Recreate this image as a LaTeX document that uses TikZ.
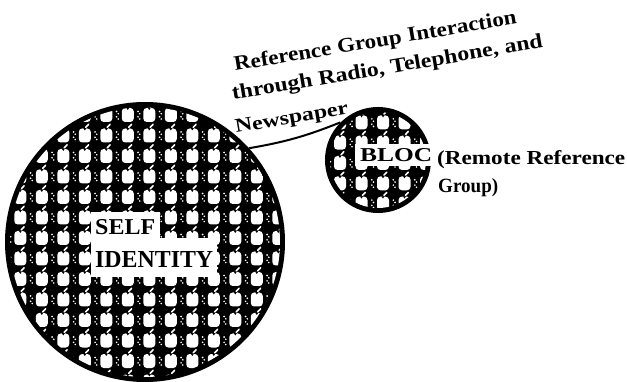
\documentclass[tikz,border=0pt]{standalone}
\usepackage{fontspec}
\setmainfont{Liberation Serif}
\usepackage{graphicx}
\tikzset{
  cell/.pic={
    \fill[white, rounded corners=3.5pt] (-6,-7) rectangle (6,7);
    \fill[black] (-1.5,-7.3) -- (1.5,-7.3) -- (0,-5) -- cycle;
    \draw[white, line width=1.6pt, line cap=round] (1,-8.3) -- (3.8,-11.2);
    \fill[white] (10.3,-3.5) circle[radius=0.9pt] (12,-1.2) circle[radius=0.9pt]
                 (10.3,1.8) circle[radius=0.9pt] (12,4) circle[radius=0.9pt];
  },
  disc/.style={circle, fill=black, inner sep=0pt},
  lbl/.style={inner sep=0pt, font=\bfseries},
  hand/.style={inner sep=0pt, anchor=base west, font=\bfseries},
  link/.style={line width=2pt}
}
\newcommand{\wa}[1]{\scalebox{2.31}[2.06]{#1}}
\newcommand{\wb}[1]{\scalebox{2.375}[2.06]{#1}}
\newcommand{\wc}[1]{\scalebox{2.39}[1.95]{#1}}
\begin{document}
\begin{tikzpicture}[x=1pt,y=-1pt]
\useasboundingbox (0,0) rectangle (627,382);
% circles
\node[disc, minimum size=280pt] (self) at (145,242) {};
\node[disc, minimum size=106pt] (bloc) at (378,160) {};
% patterns
\begin{scope}
  \clip (self.center) circle[radius=135pt];
  \foreach \i in {-7,...,7} {
    \foreach \j in {-7,...,7} {
      \pic at ({149.3+21.5*\i},{238+20.5*\j}) {cell};
    }
  }
\end{scope}
\begin{scope}
  \clip (bloc.center) circle[radius=48pt];
  \foreach \i in {-3,...,3} {
    \foreach \j in {-3,...,3} {
      \pic at ({383+21.5*\i},{163+20.3*\j}) {cell};
    }
  }
\end{scope}
% white label boxes
\fill[white] (91,212) rectangle (160,239);
\fill[white] (91,238) rectangle (217,277);
\fill[white] (355,144) rectangle (434,166);
% labels
\node[lbl, anchor=base west] (selfa) at (95,235) {\resizebox{60pt}{15pt}{SELF}};
\node[lbl, anchor=base west] (selfb) at (95,268) {\resizebox{118pt}{16pt}{IDENTITY}};
\node[lbl, anchor=base west] (bloclbl) at (360,162) {\resizebox{72pt}{13pt}{BLOC}};
\node[hand] (remote) at (437,165) {\resizebox{188pt}{14pt}{(Remote Reference}};
\node[hand] (group) at (438,193) {\resizebox{60pt}{14pt}{Group)}};
% connector
\draw[link] (self.42) to[bend right=6] (bloc.135);
% rotated handwritten text, word by word
\begin{scope}[shift={(235,71)}, rotate=9.5, transform shape]
  \node[hand] (t1a) at (0,0) {\wa{Reference}};
  \node[hand, xshift=5.8pt] (t1b) at (t1a.base east) {\wa{Group}};
  \node[hand, xshift=5.8pt] (t1c) at (t1b.base east) {\wa{Interaction}};
\end{scope}
\begin{scope}[shift={(233,100)}, rotate=9.6, transform shape]
  \node[hand] (t2a) at (0,0) {\wb{through}};
  \node[hand, xshift=5.9pt] (t2b) at (t2a.base east) {\wb{Radio,}};
  \node[hand, xshift=5.9pt] (t2c) at (t2b.base east) {\wb{Telephone,}};
  \node[hand, xshift=5.9pt] (t2d) at (t2c.base east) {\wb{and}};
\end{scope}
\begin{scope}[shift={(236,133)}, rotate=9.5, transform shape]
  \node[hand] (t3) at (0,0) {\wc{Newspaper}};
\end{scope}
\end{tikzpicture}
\end{document}
